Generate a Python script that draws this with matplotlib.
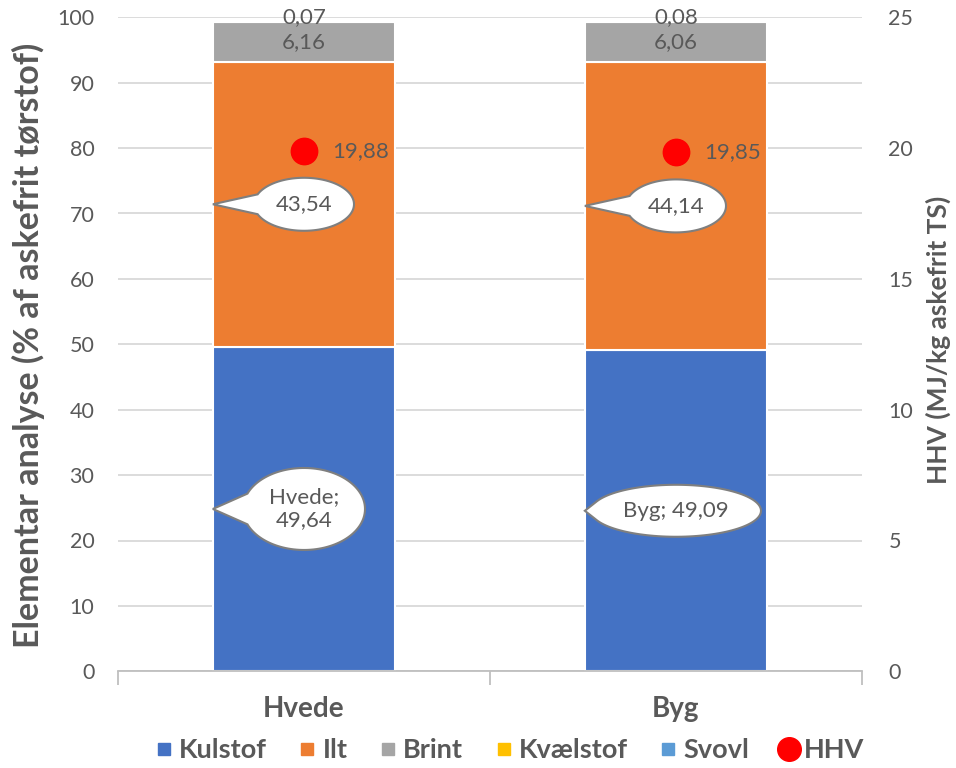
import numpy as np
import matplotlib
matplotlib.use('Agg')
import matplotlib.pyplot as plt
from matplotlib.patches import Polygon
from matplotlib.lines import Line2D
from matplotlib.transforms import IdentityTransform

plt.rcParams['font.family'] = ['Lato', 'DejaVu Sans']

categories = ['Hvede', 'Byg']
kulstof = [49.64, 49.09]
ilt = [43.54, 44.14]
brint = [6.16, 6.06]
kvaelstof = [0.07, 0.08]
svovl = [0.0, 0.0]
hhv = [19.88, 19.85]

series_names = ['Kulstof', 'Ilt', 'Brint', 'Kvælstof', 'Svovl']
series_vals = [kulstof, ilt, brint, kvaelstof, svovl]
colors = ['#4472C4', '#ED7D31', '#A5A5A5', '#FFC000', '#5B9BD5']
txtcol = '#595959'

def fmt(v):
    return '{:.2f}'.format(v).replace('.', ',')

W, H = 956, 768
fig = plt.figure(figsize=(W/100, H/100), dpi=100, facecolor='w')
ax = fig.add_axes([118/W, 1-671.3/H, (862-118)/W, (671.3-17.3)/H])
ax.set_xlim(-0.5, 1.5)
ax.set_ylim(0, 100)
ax2 = ax.twinx()
ax2.set_ylim(0, 25)

x = np.arange(len(categories))
bw = 0.49
bottom = np.zeros(len(categories))
for name, vals, c in zip(series_names, series_vals, colors):
    ax.bar(x, vals, bw, bottom=bottom, color=c, edgecolor='white', linewidth=1.5, label=name, zorder=2)
    bottom = bottom + np.array(vals)

# plain data labels
b0 = np.array(kulstof) + np.array(ilt)
for i in range(len(categories)):
    ax.text(x[i], b0[i] + brint[i]/2, fmt(brint[i]), ha='center', va='center', fontsize=16, color=txtcol, zorder=4)
    yk = b0[i] + brint[i] + kvaelstof[i]/2
    ax.annotate(fmt(kvaelstof[i]), (x[i], yk), xytext=(0, 3), textcoords='offset points',
                ha='center', va='center', fontsize=16, color=txtcol, zorder=4)

# HHV on secondary axis
ax2.plot(x, hhv, 'o', color='#FF0000', markersize=19, linestyle='none', zorder=3)
for i in range(len(categories)):
    ax2.annotate(fmt(hhv[i]), (x[i], hhv[i]), xytext=(20, 0), textcoords='offset points',
                 ha='left', va='center', fontsize=16, color=txtcol)

# grid / spines / ticks
ax.set_yticks(np.arange(0, 101, 10))
ax.yaxis.grid(True, color='#D9D9D9', linewidth=1.3, zorder=0)
ax.set_axisbelow(True)
for a in (ax, ax2):
    for s in ['left', 'right', 'top', 'bottom']:
        a.spines[s].set_visible(False)
ax.spines['bottom'].set_visible(True)
ax.spines['bottom'].set_color('#BFBFBF')
ax.spines['bottom'].set_linewidth(1.3)
ax.tick_params(axis='y', length=0, pad=17, labelsize=15.5, labelcolor=txtcol)
ax2.set_yticks(np.arange(0, 26, 5))
ax2.tick_params(axis='y', length=0, pad=19, labelsize=15.5, labelcolor=txtcol)
ax.set_xticks([-0.5, 0.5, 1.5])
ax.set_xticklabels([])
ax.tick_params(axis='x', which='major', length=10, color='#BFBFBF', width=1.3)
ax.set_xticks(x, minor=True)
ax.set_xticklabels(categories, minor=True, fontsize=20, fontweight='bold', color=txtcol)
ax.tick_params(axis='x', which='minor', length=0, pad=18)

fig.text(28/W, 1-345/H, 'Elementar analyse (% af askefrit tørstof)', rotation=90, ha='center', va='center',
         fontsize=24.5, fontweight='bold', color=txtcol)
fig.text(938/W, 1-340/H, 'HHV (MJ/kg askefrit TS)', rotation=90, ha='center', va='center',
         fontsize=19, fontweight='bold', color=txtcol)

# callouts
def callout(xc, yv, text, w, h):
    tip = ax.transData.transform((xc - bw/2, yv))
    cen = ax.transData.transform((xc, yv))
    a, b = w/2, h/2
    d = np.radians(22)
    t = np.linspace(np.pi + d, 3*np.pi - d, 120)
    pts = np.column_stack([cen[0] + a*np.cos(t), cen[1] + b*np.sin(t)])
    pts = np.vstack([pts, tip])
    p = Polygon(pts, closed=True, facecolor='white', edgecolor='#7F7F7F', linewidth=1.5,
                transform=IdentityTransform(), zorder=5)
    fig.add_artist(p)
    fig.text(cen[0], cen[1], text, transform=IdentityTransform(), ha='center', va='center',
             fontsize=16, color=txtcol, zorder=6, linespacing=1.2)

callout(x[0], kulstof[0]/2, categories[0] + ';\n' + fmt(kulstof[0]), 122, 82)
callout(x[1], kulstof[1]/2, categories[1] + '; ' + fmt(kulstof[1]), 170, 52)
for i in range(len(categories)):
    callout(x[i], kulstof[i] + ilt[i]/2, fmt(ilt[i]), 100, 53)

# legend
handles = [Line2D([], [], marker='s', linestyle='none', color=c, markersize=9) for c in colors]
handles.append(Line2D([], [], marker='o', linestyle='none', color='#FF0000', markersize=17))
leg = fig.legend(handles, series_names + ['HHV'], loc='center', bbox_to_anchor=(509/W, 1-750/H),
                 ncol=6, frameon=False, handletextpad=0.15, columnspacing=1.1, handlelength=0.8,
                 borderpad=0, prop={'size': 19.5, 'weight': 'bold'})
for t in leg.get_texts():
    t.set_color(txtcol)

fig.savefig('out.png', dpi=100, facecolor='w')
